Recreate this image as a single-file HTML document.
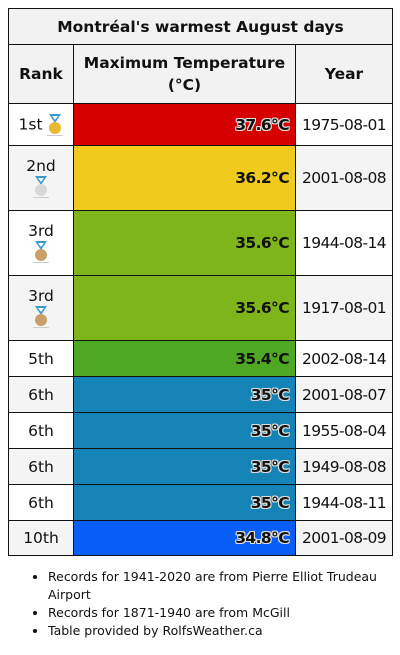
<!DOCTYPE html>
<html><head><meta charset="utf-8">
<style>
body{margin:0;background:#fff;width:400px;height:655px;overflow:hidden;font-family:"DejaVu Sans","Liberation Sans",sans-serif;color:#111}
table{position:absolute;left:8px;top:8px;border-collapse:collapse;table-layout:fixed;width:384px}
td,th{border:1px solid #111;padding:0;font-size:15.5px}
th{background:#f2f2f2;font-weight:bold;line-height:22px}
td.r{text-align:center}
td.y{text-align:center;letter-spacing:-0.6px}
td.t{text-align:right;font-weight:bold;padding-right:6px;letter-spacing:-0.6px}
.o{text-shadow:-1px -1px 0 #ddd,1px -1px 0 #ddd,-1px 1px 0 #ddd,1px 1px 0 #ddd,0 1px 0 #ddd,0 -1px 0 #ddd,1px 0 0 #ddd,-1px 0 0 #ddd}
tr.g td.r,tr.g td.y{background:#f4f4f4}
ul{position:absolute;left:12px;top:568px;margin:0;padding-left:36px;font-size:12.5px;line-height:18px;width:340px}
svg{vertical-align:middle}
</style></head><body>
<table>
<colgroup><col style="width:65px"><col style="width:222px"><col style="width:97px"></colgroup>
<tr style="height:36px"><th colspan="3">Montréal's warmest August days</th></tr>
<tr style="height:59px"><th>Rank</th><th>Maximum Temperature<br>(°C)</th><th>Year</th></tr>
<tr style="height:42px"><td class="r">1st <svg width="16" height="24" viewBox="0 0 16 24"><path d="M2 1h12l-6 9z" fill="#3a9ad0"/><path d="M5 3h6l-3 4z" fill="#fff"/><circle cx="8" cy="15" r="6" fill="#e8b830"/><rect x="0" y="22" width="16" height="1" fill="#ccc"/></svg></td><td class="t o" style="background:#d60000">37.6°C</td><td class="y">1975-08-01</td></tr>
<tr class="g" style="height:65px"><td class="r">2nd<br><svg width="16" height="24" viewBox="0 0 16 24"><path d="M2 1h12l-6 9z" fill="#3a9ad0"/><path d="M5 3h6l-3 4z" fill="#fff"/><circle cx="8" cy="15" r="6" fill="#d8d8d8"/><rect x="0" y="22" width="16" height="1" fill="#ccc"/></svg></td><td class="t" style="background:#f0cb1e">36.2°C</td><td class="y">2001-08-08</td></tr>
<tr style="height:65px"><td class="r">3rd<br><svg width="16" height="24" viewBox="0 0 16 24"><path d="M2 1h12l-6 9z" fill="#3a9ad0"/><path d="M5 3h6l-3 4z" fill="#fff"/><circle cx="8" cy="15" r="6" fill="#c9a06a"/><rect x="0" y="22" width="16" height="1" fill="#ccc"/></svg></td><td class="t" style="background:#7db51a">35.6°C</td><td class="y">1944-08-14</td></tr>
<tr class="g" style="height:65px"><td class="r">3rd<br><svg width="16" height="24" viewBox="0 0 16 24"><path d="M2 1h12l-6 9z" fill="#3a9ad0"/><path d="M5 3h6l-3 4z" fill="#fff"/><circle cx="8" cy="15" r="6" fill="#c9a06a"/><rect x="0" y="22" width="16" height="1" fill="#ccc"/></svg></td><td class="t" style="background:#7db51a">35.6°C</td><td class="y">1917-08-01</td></tr>
<tr style="height:36px"><td class="r">5th</td><td class="t" style="background:#4ea823">35.4°C</td><td class="y">2002-08-14</td></tr>
<tr class="g" style="height:36px"><td class="r">6th</td><td class="t o" style="background:#1583b5">35°C</td><td class="y">2001-08-07</td></tr>
<tr style="height:36px"><td class="r">6th</td><td class="t o" style="background:#1583b5">35°C</td><td class="y">1955-08-04</td></tr>
<tr class="g" style="height:36px"><td class="r">6th</td><td class="t o" style="background:#1583b5">35°C</td><td class="y">1949-08-08</td></tr>
<tr style="height:36px"><td class="r">6th</td><td class="t o" style="background:#1583b5">35°C</td><td class="y">1944-08-11</td></tr>
<tr class="g" style="height:35px"><td class="r">10th</td><td class="t o" style="background:#0a5ef8">34.8°C</td><td class="y">2001-08-09</td></tr>
</table>
<ul>
<li>Records for 1941-2020 are from Pierre Elliot Trudeau Airport</li>
<li>Records for 1871-1940 are from McGill</li>
<li>Table provided by RolfsWeather.ca</li>
</ul>
</body></html>
